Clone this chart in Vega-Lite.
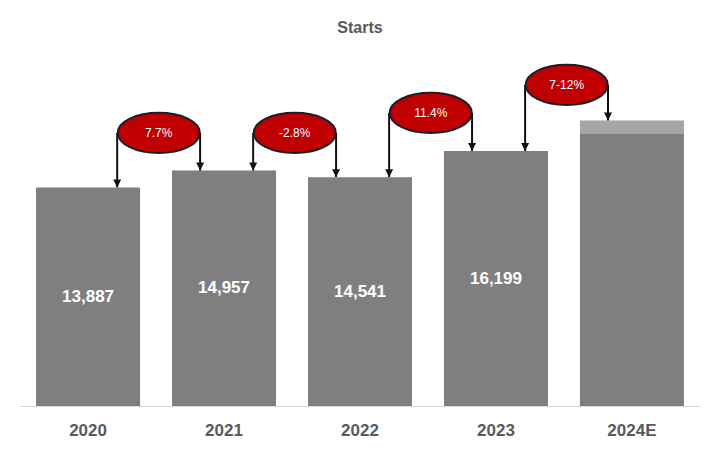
{
  "$schema": "https://vega.github.io/schema/vega-lite/v6.json",
  "width": 680,
  "height": 362,
  "autosize": "none",
  "padding": {"left": 20, "top": 44, "right": 15, "bottom": 51},
  "background": "white",
  "config": {"view": {"stroke": null}, "font": "Liberation Sans"},
  "title": {"text": "Starts", "fontSize": 16, "fontWeight": "bold", "color": "#595959", "offset": 8, "anchor": "middle"},
  "datasets": {
    "bars": [
      {"year": "2020", "part": "base", "value": 13887},
      {"year": "2021", "part": "base", "value": 14957},
      {"year": "2022", "part": "base", "value": 14541},
      {"year": "2023", "part": "base", "value": 16199},
      {"year": "2024E", "part": "base", "value": 17333},
      {"year": "2024E", "part": "range", "value": 810}
    ],
    "changes": [
      {"from": "2020", "to": "2021", "label": "7.7%", "yfrom": 13887, "yto": 14957, "level": 17350},
      {"from": "2021", "to": "2022", "label": "-2.8%", "yfrom": 14957, "yto": 14541, "level": 17350},
      {"from": "2022", "to": "2023", "label": "11.4%", "yfrom": 14541, "yto": 16199, "level": 18620},
      {"from": "2023", "to": "2024E", "label": "7-12%", "yfrom": 16199, "yto": 18143, "level": 20400}
    ]
  },
  "layer": [
    {
      "data": {"name": "bars"},
      "mark": {"type": "bar"},
      "encoding": {
        "x": {
          "field": "year", "type": "nominal",
          "scale": {"domain": ["2020", "2021", "2022", "2023", "2024E"], "paddingInner": 0.235, "paddingOuter": 0.118},
          "axis": {"title": null, "domainColor": "#d9d9d9", "domainWidth": 1, "ticks": false, "labelFontSize": 17, "labelFontWeight": "bold", "labelColor": "#595959", "labelPadding": 16, "labelAngle": 0, "grid": false}
        },
        "y": {"field": "value", "type": "quantitative", "stack": "zero", "scale": {"domain": [0, 23000], "nice": false}, "axis": null},
        "color": {"field": "part", "type": "nominal", "scale": {"domain": ["base", "range"], "range": ["#7f7f7f", "#a6a6a6"]}, "legend": null},
        "order": {"field": "part", "sort": "ascending"}
      }
    },
    {
      "data": {"name": "bars"},
      "transform": [
        {"filter": "datum.part == 'base' && datum.year != '2024E'"},
        {"calculate": "datum.value / 2", "as": "labelpos"}
      ],
      "mark": {"type": "text", "color": "white", "fontSize": 17, "fontWeight": "bold"},
      "encoding": {
        "x": {"field": "year", "type": "nominal"},
        "y": {"field": "labelpos", "type": "quantitative", "scale": {"domain": [0, 23000], "nice": false}, "axis": null},
        "text": {"field": "value", "type": "quantitative", "format": ","}
      }
    },
    {
      "data": {"name": "changes"},
      "mark": {"type": "rule", "color": "#111111", "strokeWidth": 2},
      "encoding": {
        "x": {"field": "from", "type": "nominal", "bandPosition": 0.78},
        "y": {"field": "level", "type": "quantitative", "scale": {"domain": [0, 23000], "nice": false}, "axis": null},
        "y2": {"field": "yfrom"}
      }
    },
    {
      "data": {"name": "changes"},
      "mark": {"type": "rule", "color": "#111111", "strokeWidth": 2},
      "encoding": {
        "x": {"field": "to", "type": "nominal", "bandPosition": 0.27},
        "y": {"field": "level", "type": "quantitative", "scale": {"domain": [0, 23000], "nice": false}, "axis": null},
        "y2": {"field": "yto"}
      }
    },
    {
      "data": {"name": "changes"},
      "mark": {"type": "point", "shape": "M-1,-2L1,-2L0,0Z", "size": 64, "filled": true, "color": "#111111", "opacity": 1},
      "encoding": {
        "x": {"field": "from", "type": "nominal", "bandPosition": 0.78},
        "y": {"field": "yfrom", "type": "quantitative", "scale": {"domain": [0, 23000], "nice": false}, "axis": null}
      }
    },
    {
      "data": {"name": "changes"},
      "mark": {"type": "point", "shape": "M-1,-2L1,-2L0,0Z", "size": 64, "filled": true, "color": "#111111", "opacity": 1},
      "encoding": {
        "x": {"field": "to", "type": "nominal", "bandPosition": 0.27},
        "y": {"field": "yto", "type": "quantitative", "scale": {"domain": [0, 23000], "nice": false}, "axis": null}
      }
    },
    {
      "data": {"name": "changes"},
      "mark": {"type": "point", "shape": "M-1,0C-1,-0.2706,-0.5523,-0.49,0,-0.49C0.5523,-0.49,1,-0.2706,1,0C1,0.2706,0.5523,0.49,0,0.49C-0.5523,0.49,-1,0.2706,-1,0Z", "size": 6724, "filled": true, "fill": "#c00000", "stroke": "#1c1c2c", "strokeWidth": 2, "opacity": 1},
      "encoding": {
        "x": {"field": "from", "type": "nominal", "bandPosition": 1.18},
        "y": {"field": "level", "type": "quantitative", "scale": {"domain": [0, 23000], "nice": false}, "axis": null}
      }
    },
    {
      "data": {"name": "changes"},
      "mark": {"type": "text", "color": "white", "fontSize": 12},
      "encoding": {
        "x": {"field": "from", "type": "nominal", "bandPosition": 1.18},
        "y": {"field": "level", "type": "quantitative", "scale": {"domain": [0, 23000], "nice": false}, "axis": null},
        "text": {"field": "label", "type": "nominal"}
      }
    }
  ]
}
